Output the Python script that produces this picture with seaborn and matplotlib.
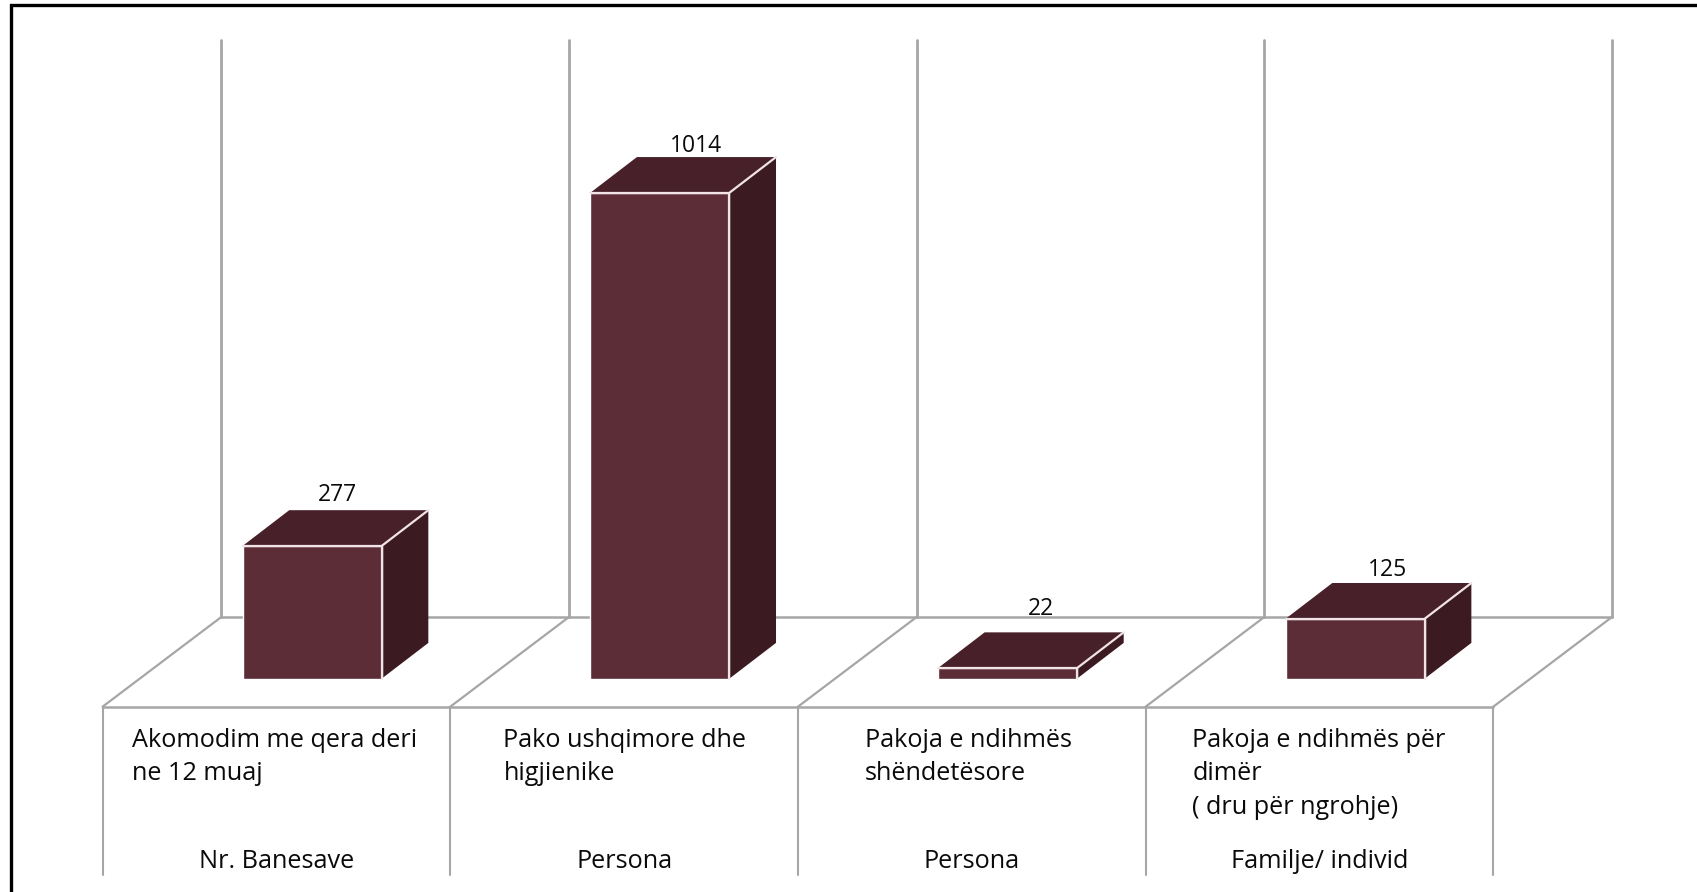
import matplotlib
matplotlib.use('Agg')
import matplotlib.pyplot as plt
import pandas as pd
import seaborn as sns
from matplotlib.patches import Polygon

# values
categories = ['Akomodim me qera deri\nne 12 muaj', 'Pako ushqimore dhe\nhigjienike',
              'Pakoja e ndihmës\nshëndetësore', 'Pakoja e ndihmës për\ndimër\n( dru për ngrohje)']
values = [277, 1014, 22, 125]
units = ['Nr. Banesave', 'Persona', 'Persona', 'Familje/ individ']

# label placement, the original has them all slightly different
text_pad = [0.084, 0.153, 0.193, 0.134]
label_nudge = [(-5, -1), (3, -4), (1, 5), (0, -2)]

FRONT = '#5c2c37'
TOP = '#472029'
SIDE = '#3b1a21'
EDGE = '#f0e4e6'
GRID = '#a6a6a6'
INK = '#0a0a0a'

sns.set_theme(style='white')
plt.rcParams['font.family'] = ['Open Sans', 'DejaVu Sans']

df = pd.DataFrame({'cat': categories, 'value': values})

fig = plt.figure(figsize=(16.97, 8.92), dpi=100)
ax = fig.add_axes([0, 0, 1, 1])
sns.barplot(data=df, x='cat', y='value', color=FRONT, saturation=1, width=0.4, ax=ax, zorder=4)

# the axes fill the figure, so these limits place the plot inside the frame
ax.set_xlim(-0.898, 3.983)
ax.set_ylim(-445.4, 1416.3)
ax.axis('off')

# fake 3d depth
dx = 0.134
dy = 74.5
left = -0.603
floor_front = -58.7
floor_back = floor_front + 187.5
wall_top = 1332.7
table_bottom = -408.9
back = 0.342
n = len(categories)

for i in range(n + 1):
    x = left + i
    ax.plot([x + back, x + back], [floor_back, wall_top], color=GRID, lw=2, zorder=1)
    ax.plot([x, x + back], [floor_front, floor_back], color=GRID, lw=1.6, zorder=1)
    ax.plot([x, x], [table_bottom, floor_front], color=GRID, lw=1.5, zorder=1)
ax.plot([left + back, left + n + back], [floor_back, floor_back], color=GRID, lw=1.8, zorder=1)
ax.plot([left, left + n], [floor_front, floor_front], color=GRID, lw=1.8, zorder=1)

for i, (bar, val, cat, unit) in enumerate(zip(ax.patches, values, categories, units)):
    x0 = bar.get_x()
    x1 = x0 + bar.get_width()
    h = bar.get_height()
    ax.add_patch(Polygon([(x0, h), (x1, h), (x1 + dx, h + dy), (x0 + dx, h + dy)],
                         facecolor=TOP, edgecolor='none', zorder=3))
    ax.add_patch(Polygon([(x1, 0), (x1, h), (x1 + dx, h + dy), (x1 + dx, dy)],
                         facecolor=SIDE, edgecolor='none', zorder=3))
    ax.plot([x0, x1, x1], [h, h, 0], color=EDGE, lw=1.6, zorder=5)
    ax.plot([x1, x1 + dx], [h, h + dy], color=EDGE, lw=1.6, zorder=5)

    ax.annotate(str(val), (x0 + (bar.get_width() + dx) / 2 + 0.025, h + dy),
                xytext=(label_nudge[i][0], 3 + label_nudge[i][1]),
                textcoords='offset points', ha='center', va='bottom', fontsize=16.5,
                color=INK, zorder=6)

    ax.text(left + i + text_pad[i], -103, cat, ha='left', va='top', fontsize=18.2,
            linespacing=1.45, color=INK)
    ax.text(left + i + 0.5, -381, unit, ha='center', va='center', fontsize=18.2, color=INK)

# only the top and left of the black frame are in the picture
ax.plot([0.0065, 0.0065, 1], [0, 0.9944, 0.9944], transform=ax.transAxes, color='black',
        lw=2.4, solid_joinstyle='miter', clip_on=False, zorder=10)

fig.savefig('out.png', dpi=100)
